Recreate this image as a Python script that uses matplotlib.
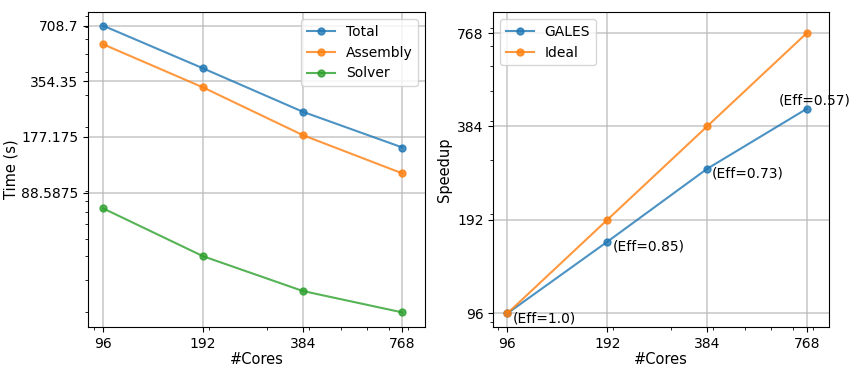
import matplotlib
matplotlib.use("Agg")
import matplotlib.pyplot as plt
from matplotlib.ticker import ScalarFormatter, NullFormatter

cores = [96, 192, 384, 768]
t_total = [708.7, 416.9, 242.7, 155.4]
t_assembly = [562.0, 328.7, 181.4, 112.5]
t_solver = [72.7, 40.1, 26.0, 19.9]
speedup = [96.0, 163.2, 280.3, 437.8]
ideal = [96, 192, 384, 768]
eff_labels = ["(Eff=1.0)", "(Eff=0.85)", "(Eff=0.73)", "(Eff=0.57)"]
time_ticks = [88.5875, 177.175, 354.35, 708.7]

plt.rcParams["font.size"] = 10
plt.rcParams["axes.labelsize"] = 10.5

fig = plt.figure(figsize=(8.51, 3.67), dpi=100)
ax1 = fig.add_axes([0.1034, 0.109, 0.396, 0.858])
ax2 = fig.add_axes([0.5797, 0.109, 0.3948, 0.858])

style = dict(marker="o", markersize=5, linewidth=1.5, alpha=0.8)

ax1.plot(cores, t_total, label="Total", color="#1f77b4", **style)
ax1.plot(cores, t_assembly, label="Assembly", color="#ff7f0e", **style)
ax1.plot(cores, t_solver, label="Solver", color="#2ca02c", **style)
ax1.set_xscale("log")
ax1.set_yscale("log")
ax1.set_xlim(86.3, 898)
ax1.set_ylim(16.6, 840)
ax1.set_yticks(time_ticks)
ax1.set_yticklabels([str(v) for v in time_ticks])
ax1.yaxis.set_minor_formatter(NullFormatter())
ax1.set_ylabel("Time (s)", labelpad=2)
ax1.legend(loc="upper right")

ax2.plot(cores, speedup, label="GALES", color="#1f77b4", **style)
ax2.plot(cores, ideal, label="Ideal", color="#ff7f0e", **style)
ax2.set_xscale("log")
ax2.set_yscale("log")
ax2.set_xlim(87.0, 898)
ax2.set_ylim(86.7, 897)
ax2.set_yticks(ideal)
ax2.yaxis.set_major_formatter(ScalarFormatter())
ax2.yaxis.set_minor_formatter(NullFormatter())
ax2.set_ylabel("Speedup", labelpad=4)
ax2.legend(loc="upper left")

# efficiency labels next to the measured speedup points
offsets = [(5, -5), (5, -5), (5, -5), (-28, 8)]
for x, y, lab, off in zip(cores, speedup, eff_labels, offsets):
    ax2.annotate(lab, (x, y), xytext=off, textcoords="offset pixels",
                 ha="left", va="center", fontsize=10, annotation_clip=False)

for ax in (ax1, ax2):
    ax.set_xticks(cores)
    ax.xaxis.set_major_formatter(ScalarFormatter())
    ax.xaxis.set_minor_formatter(NullFormatter())
    ax.set_xlabel("#Cores", labelpad=1)
    ax.grid(True, which="major", color="#b8b8b8", linewidth=1.1, alpha=0.8)

fig.savefig("out.png", dpi=100)
